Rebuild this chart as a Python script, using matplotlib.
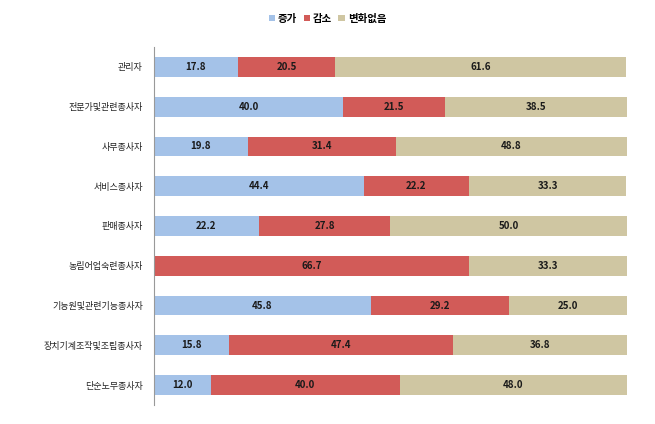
import matplotlib.pyplot as plt

plt.rcParams['font.family'] = ['Noto Sans CJK KR', 'DejaVu Sans']

categories = ['관리자', '전문가및관련종사자', '사무종사자', '서비스종사자', '판매종사자',
              '농림어업숙련종사자', '기능원및관련기능종사자', '장치기계조작및조립종사자', '단순노무종사자']
increase = [17.8, 40.0, 19.8, 44.4, 22.2, 0.0, 45.8, 15.8, 12.0]
decrease = [20.5, 21.5, 31.4, 22.2, 27.8, 66.7, 29.2, 47.4, 40.0]
no_change = [61.6, 38.5, 48.8, 33.3, 50.0, 33.3, 25.0, 36.8, 48.0]
series_names = ['증가', '감소', '변화없음']
colors = ['#A4C2E8', '#D25B58', '#CFC6A2']

fig = plt.figure(figsize=(6.55, 4.24), dpi=100)
ax = fig.add_axes([0.235, 0.045, 0.722, 0.844])

y = list(range(len(categories)))
left = [0.0] * len(categories)
for vals, name, c in zip([increase, decrease, no_change], series_names, colors):
    ax.barh(y, vals, left=left, height=0.5, color=c, label=name)
    for yi, l, v in zip(y, left, vals):
        if v > 0:
            ax.text(l + v / 2, yi, f'{v:.1f}', ha='center', va='center',
                    fontsize=7, color='#1a1a1a', fontweight='bold')
    left = [a + b for a, b in zip(left, vals)]

ax.set_xlim(0, 100)
ax.set_ylim(8.5, -0.5)
ax.set_yticks(y)
ax.set_yticklabels(categories, fontsize=6.5, color='#222222')
ax.tick_params(axis='y', length=0, pad=8)
ax.set_xticks([])
for s in ['top', 'right', 'bottom']:
    ax.spines[s].set_visible(False)
ax.spines['left'].set_color('#999999')

fig.legend(loc='upper center', bbox_to_anchor=(0.5, 0.99), ncol=3, frameon=False,
           handlelength=0.6, handleheight=0.6, handletextpad=0.3,
           columnspacing=0.6, prop={'weight': 'bold', 'size': 7.5})

fig.savefig('out.png', dpi=100)
